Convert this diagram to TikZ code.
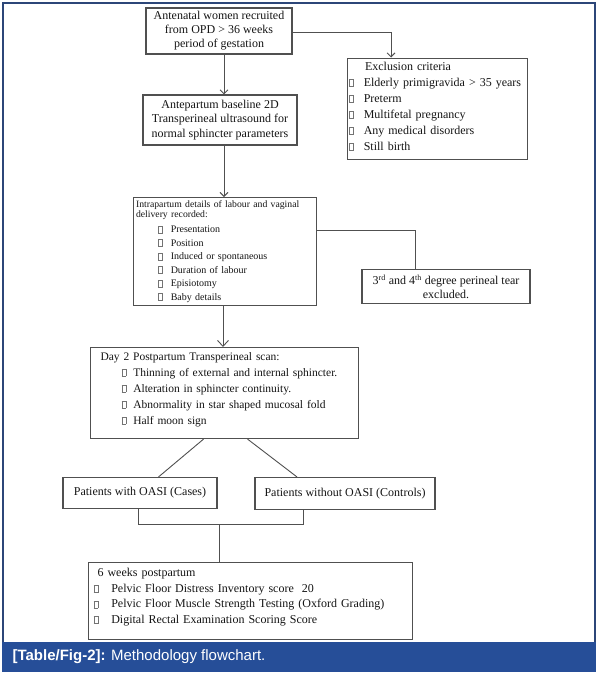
\documentclass[tikz,border=0pt]{standalone}
\usepackage{fontspec}
\setmainfont{Liberation Serif}
\newfontfamily\capfont{Liberation Sans}
\usetikzlibrary{calc,arrows.meta}
\definecolor{framec}{RGB}{44,70,120}
\definecolor{bandc}{RGB}{38,78,152}
\definecolor{linec}{RGB}{80,80,80}
\definecolor{txtc}{RGB}{20,20,20}
\newcommand{\cbx}[1]{{\color{black!55}\setlength{\fboxsep}{0pt}\setlength{\fboxrule}{0.35pt}\fbox{\rule{0pt}{#1}\hspace{4pt}}}}
\begin{document}
\begin{tikzpicture}[x=1pt,y=-1pt,
  box/.style={draw=linec, line width=1.1pt, inner sep=0pt, text=txtc},
  conn/.style={draw=linec, line width=0.9pt},
  arr/.style={conn, -{Straight Barb[length=4pt,width=8pt]}},
  bigarr/.style={conn, -{Straight Barb[length=6pt,width=11pt]}}]
\useasboundingbox (0,0) rectangle (598,675);
\fill[bandc] (2,642) rectangle (596,672);
\draw[framec, line width=1.5pt] (3,642) -- (3,3) -- (595,3) -- (595,642);
\node[anchor=west, text=white, font=\capfont\fontsize{15}{17}\selectfont] (cap) at (9,657) {\textbf{[Table/Fig-2]:} Methodology flowchart.};

% box 1
\node[box, minimum width=146pt, minimum height=46pt, align=center, font=\fontsize{12}{14}\selectfont] (b1) at (219,31)
  {Antenatal women recruited\\from OPD > 36 weeks\\period of gestation};
% exclusion
\node[box, anchor=north west, minimum width=180pt, minimum height=101pt, text width=177pt, inner xsep=1.5pt, align=left, font=\fontsize{12}{16}\selectfont] (ex) at (347,57.5)
  {\hspace*{16pt}Exclusion criteria\\
   \cbx{7pt}\hspace{10pt}Elderly primigravida > 35 years\\
   \cbx{7pt}\hspace{10pt}Preterm\\
   \cbx{7pt}\hspace{10pt}Multifetal pregnancy\\
   \cbx{7pt}\hspace{10pt}Any medical disorders\\
   \cbx{7pt}\hspace{10pt}Still birth\rule[-5pt]{0pt}{1pt}};
% box 2
\node[box, minimum width=154pt, minimum height=50pt, align=center, font=\fontsize{12}{14.5}\selectfont] (b2) at (220,120)
  {Antepartum baseline 2D\\Transperineal ultrasound for\\normal sphincter parameters};
% box 3
\node[box, anchor=north west, minimum width=182pt, minimum height=108pt, text width=178pt, inner xsep=2.5pt, align=left, font=\fontsize{10}{13.5}\selectfont] (b3) at (133,197)
  {{\fontsize{9.7}{10}\selectfont Intrapartum details of labour and vaginal}\\[-3.5pt]
   {\fontsize{9.7}{10}\selectfont delivery recorded:}\\[1.5pt]
   \hspace*{22pt}\cbx{6.5pt}\hspace{8pt}Presentation\\
   \hspace*{22pt}\cbx{6.5pt}\hspace{8pt}Position\\
   \hspace*{22pt}\cbx{6.5pt}\hspace{8pt}Induced or spontaneous\\
   \hspace*{22pt}\cbx{6.5pt}\hspace{8pt}Duration of labour\\
   \hspace*{22pt}\cbx{6.5pt}\hspace{8pt}Episiotomy\\
   \hspace*{22pt}\cbx{6.5pt}\hspace{8pt}Baby details};
% box 4
\node[box, minimum width=168pt, minimum height=34pt, align=center, font=\fontsize{12}{14}\selectfont] (b4) at (446,286.5)
  {3\textsuperscript{rd} and 4\textsuperscript{th} degree perineal tear\\excluded.};
% box 5
\node[box, anchor=north west, minimum width=268pt, minimum height=91pt, text width=264pt, inner xsep=2pt, align=left, font=\fontsize{11.5}{16}\selectfont] (b5) at (90,347)
  {\hspace*{8pt}Day 2 Postpartum Transperineal scan:\\
   \hspace*{29pt}\cbx{7pt}\hspace{7pt}Thinning of external and internal sphincter.\\
   \hspace*{29pt}\cbx{7pt}\hspace{7pt}Alteration in sphincter continuity.\\
   \hspace*{29pt}\cbx{7pt}\hspace{7pt}Abnormality in star shaped mucosal fold\\
   \hspace*{29pt}\cbx{7pt}\hspace{7pt}Half moon sign\rule[-10pt]{0pt}{1pt}};
% box 6, 7
\node[box, minimum width=154pt, minimum height=31pt, font=\fontsize{12}{14}\selectfont] (b6) at (140,493)
  {Patients with OASI (Cases)};
\node[box, minimum width=180pt, minimum height=32pt, font=\fontsize{12}{14}\selectfont] (b7) at (345,493.5)
  {Patients without OASI (Controls)};
% box 8
\node[box, anchor=north west, minimum width=324pt, minimum height=77pt, text width=320pt, inner xsep=2pt, align=left, font=\fontsize{12}{15.5}\selectfont] (b8) at (88,562)
  {\hspace*{7pt}6 weeks postpartum\\
   \hspace*{3pt}\cbx{7pt}\hspace{13pt}Pelvic Floor Distress Inventory score~~20\\
   \hspace*{3pt}\cbx{7pt}\hspace{13pt}Pelvic Floor Muscle Strength Testing (Oxford Grading)\\
   \hspace*{3pt}\cbx{7pt}\hspace{13pt}Digital Rectal Examination Scoring Score\rule[-10pt]{0pt}{1pt}};

% connectors
\coordinate (v1) at (224,0);
\coordinate (v2) at (391,0);
\coordinate (h1) at (0,32.5);
\coordinate (h3) at (0,230);
\coordinate (v4) at (415,0);
\coordinate (v5) at (223,0);
\coordinate (m) at (219,524.5);
\draw[arr] (v1 |- b1.south) -- (v1 |- b2.north);
\draw[arr] (h1 -| b1.east) -| (v2 |- ex.north);
\draw[arr] (v1 |- b2.south) -- (v1 |- b3.north);
\draw[conn] (h3 -| b3.east) -| (v4 |- b4.north);
\draw[bigarr] (v5 |- b3.south) -- (v5 |- b5.north);
\draw[conn] ($(b5.south)+(-21,0)$) -- ($(b6.north)+(18.5,0)$);
\draw[conn] ($(b5.south)+(23,0)$) -- ($(b7.north)+(-48,0)$);
\draw[conn] ($(b6.south)+(-1.5,0)$) |- (m);
\draw[conn] ($(b7.south)+(-42,0)$) |- (m);
\draw[conn] (m) -- (m |- b8.north);
\end{tikzpicture}
\end{document}
